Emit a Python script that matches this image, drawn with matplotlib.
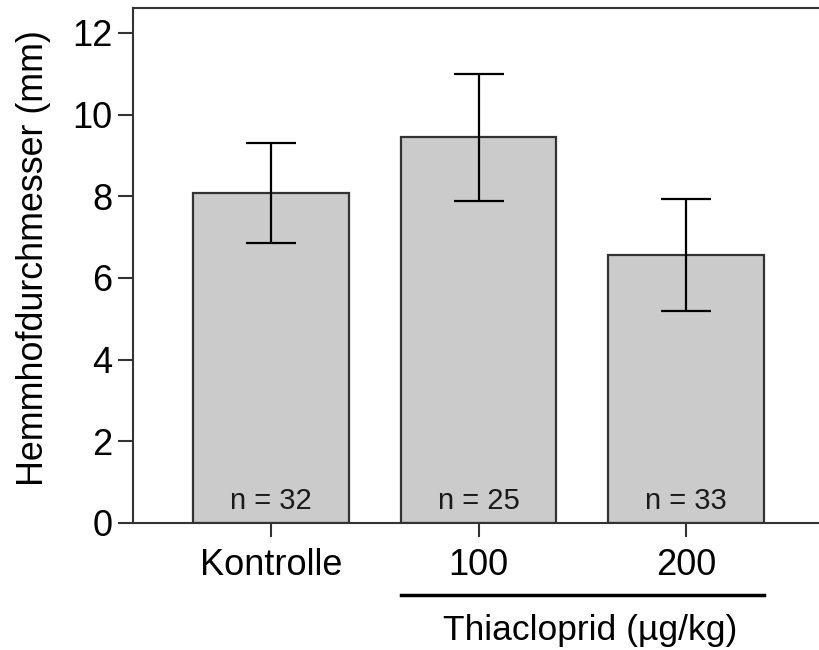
import matplotlib.pyplot as plt
import matplotlib.transforms as mtransforms

plt.rcParams['font.family'] = ['Liberation Sans', 'DejaVu Sans']

# Hemmhofdurchmesser je Gruppe (Mittelwert, obere/untere Grenze des Fehlerbalkens)
groups = ["Kontrolle", "100", "200"]
means = [8.08, 9.45, 6.56]
upper = [9.31, 11.0, 7.94]
lower = [6.86, 7.89, 5.19]
n_labels = ["n = 32", "n = 25", "n = 33"]

err_low = [m - lo for m, lo in zip(means, lower)]
err_high = [hi - m for m, hi in zip(means, upper)]

fig = plt.figure(figsize=(8.19, 6.5), dpi=100)
ax = fig.add_axes([0.1624, 0.1954, 0.8437, 0.7923])

x = range(len(groups))
ax.bar(x, means, width=0.75, color="#cbcbcb", edgecolor="#333333",
       linewidth=1.6, zorder=2)
ax.errorbar(x, means, yerr=[err_low, err_high], fmt="none", ecolor="black",
            elinewidth=1.6, capsize=18, capthick=1.6, zorder=3)

for xi, label in zip(x, n_labels):
    ax.text(xi, 0.2, label, ha="center", va="bottom", fontsize=21,
            color="#1a1a1a", zorder=4)

ax.set_xlim(-0.665, 2.665)
ax.set_ylim(0, 12.61)
ax.set_yticks([0, 2, 4, 6, 8, 10, 12])
ax.set_xticks(list(x))
ax.set_xticklabels(groups)

for side in ["left", "bottom", "top", "right"]:
    ax.spines[side].set_linewidth(1.5)
    ax.spines[side].set_color("#333333")

ax.tick_params(axis="y", labelsize=26, length=11, width=1.5, pad=4,
               color="#333333")
ax.tick_params(axis="x", labelsize=26, length=10, width=1.5, pad=8,
               color="#333333")

ax.set_ylabel("Hemmhofdurchmesser (mm)", fontsize=25.8)
ax.yaxis.set_label_coords(-0.118, 0.515)

# Klammerlinie und Beschriftung unter den Thiacloprid-Gruppen
trans = mtransforms.blended_transform_factory(ax.transData, ax.transAxes)
ax.plot([0.625, 2.375], [-0.14, -0.14], color="black", linewidth=2.5,
        transform=trans, clip_on=False)
ax.text(1.537, -0.208, "Thiacloprid (µg/kg)", ha="center", va="center",
        fontsize=25.5, transform=trans)

fig.savefig("out.png", dpi=100)
